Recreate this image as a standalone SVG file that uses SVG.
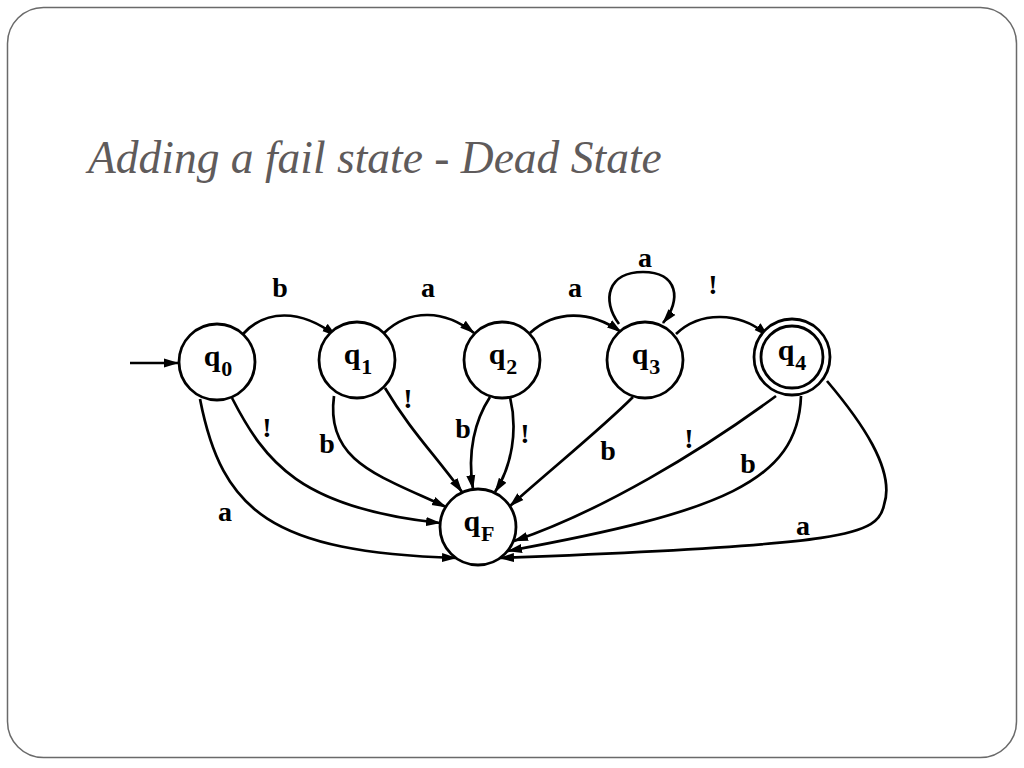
<svg xmlns="http://www.w3.org/2000/svg" width="1024" height="768" viewBox="0 0 1024 768">
<style>
.node circle{fill:#fff;stroke:#000;stroke-width:2.8}
.nl{font-family:"Liberation Serif","Times New Roman",serif;font-weight:bold;font-size:30px;fill:#000;text-anchor:middle}
.sub{font-size:22px}
.edge path{fill:none;stroke:#000;stroke-width:2.7}
.el{font-family:"Liberation Serif","Times New Roman",serif;font-weight:bold;font-size:28px;fill:#000;text-anchor:middle}
</style>
<defs>
<marker id="arr" markerUnits="userSpaceOnUse" markerWidth="15" markerHeight="10" refX="14" refY="5" orient="auto">
<path d="M0,0.5 L15,5 L0,9.5 Z" fill="#000"/>
</marker>
</defs>
<rect x="0" y="0" width="1024" height="768" fill="#fff"/>
<rect x="7.5" y="7.5" width="1009" height="750" rx="36" ry="36" fill="#fff" stroke="#6a6a6a" stroke-width="1.5"/>
<text x="88" y="173" font-family="'Liberation Serif', serif" font-style="italic" font-size="45.5" fill="#5f5b5b">Adding a fail state - Dead State</text>

<g id="connectors" class="edge">
<path d="M130 363 L178 363" marker-end="url(#arr)"/>
<path d="M243 334 C265 310, 300 308, 336 336" marker-end="url(#arr)"/>
<path d="M384 333 C410 308, 445 310, 474 333" marker-end="url(#arr)"/>
<path d="M530 333 C555 310, 590 310, 621 332" marker-end="url(#arr)"/>
<path d="M619 324 C601 300, 608 272, 643 272 C678 272, 682 300, 663 323" marker-end="url(#arr)"/>
<path d="M676 334 C700 311, 740 311, 768 336" marker-end="url(#arr)"/>
<path d="M232 398 C265 462, 300 508, 440 523" marker-end="url(#arr)"/>
<path d="M200 399 C222 512, 272 552, 456 558" marker-end="url(#arr)"/>
<path d="M334 396 C325 462, 380 476, 446 507" marker-end="url(#arr)"/>
<path d="M385 388 C410 430, 435 455, 462 492" marker-end="url(#arr)"/>
<path d="M490 397 C475 420, 467 452, 473 489" marker-end="url(#arr)"/>
<path d="M510 397 C518 430, 512 466, 495 492" marker-end="url(#arr)"/>
<path d="M633 397 C600 430, 550 470, 510 506" marker-end="url(#arr)"/>
<path d="M776 396 C700 452, 600 512, 514 541" marker-end="url(#arr)"/>
<path d="M801 396 C798 482, 720 512, 508 551" marker-end="url(#arr)"/>
<path d="M827 381 C860 420, 896 470, 884 505 C878 535, 850 545, 500 558" marker-end="url(#arr)"/>
</g>

<g id="edge-labels">
<text class="el" x="280" y="297">b</text>
<text class="el" x="428" y="297">a</text>
<text class="el" x="575" y="297">a</text>
<text class="el" x="645" y="267">a</text>
<text class="el" x="713" y="294">!</text>
<text class="el" x="267" y="437">!</text>
<text class="el" x="327" y="453">b</text>
<text class="el" x="408" y="408">!</text>
<text class="el" x="225" y="521">a</text>
<text class="el" x="463" y="438">b</text>
<text class="el" x="525" y="443">!</text>
<text class="el" x="608" y="460">b</text>
<text class="el" x="689" y="448">!</text>
<text class="el" x="748" y="473">b</text>
<text class="el" x="803" y="535">a</text>
</g>

<g id="q0" class="node"><circle cx="217" cy="362" r="38"/><text class="nl" x="218" y="366">q<tspan class="sub" dy="10" dx="1">0</tspan></text></g>
<g id="q1" class="node"><circle cx="357" cy="360" r="38"/><text class="nl" x="358" y="364">q<tspan class="sub" dy="10" dx="1">1</tspan></text></g>
<g id="q2" class="node"><circle cx="502" cy="360" r="38"/><text class="nl" x="503" y="364">q<tspan class="sub" dy="10" dx="1">2</tspan></text></g>
<g id="q3" class="node"><circle cx="645" cy="360" r="38"/><text class="nl" x="646" y="364">q<tspan class="sub" dy="10" dx="1">3</tspan></text></g>
<g id="q4" class="node"><circle cx="792" cy="357" r="38"/><circle cx="792" cy="357" r="31"/><text class="nl" x="792" y="360">q<tspan class="sub" dy="10" dx="1">4</tspan></text></g>
<g id="qF" class="node"><circle cx="478" cy="527" r="38"/><text class="nl" x="479" y="531">q<tspan class="sub" dy="10" dx="1">F</tspan></text></g>
</svg>
